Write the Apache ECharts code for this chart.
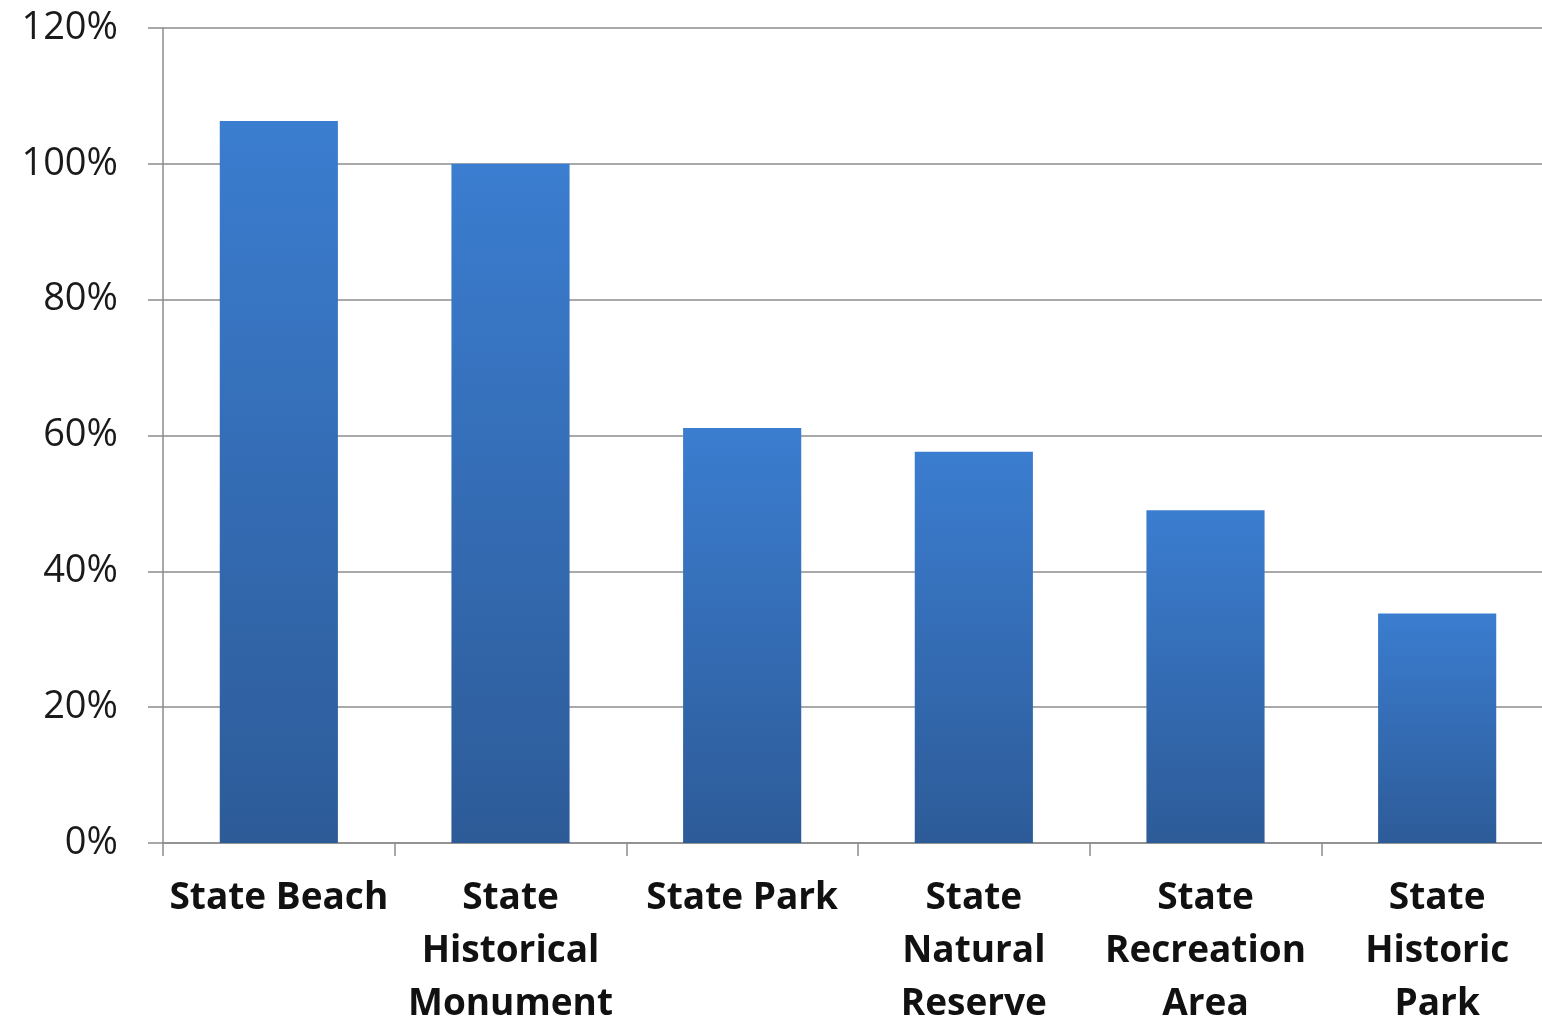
<!DOCTYPE html>
<html>
<head>
<meta charset="utf-8">
<script src="https://cdn.jsdelivr.net/npm/echarts@6/dist/echarts.min.js"></script>
<style>
  html, body { margin: 0; padding: 0; background: #fff; }
  #chart { width: 1542px; height: 1024px; }
</style>
</head>
<body>
<div id="chart"></div>
<script>
// 类别与数值
var categories = ['State Beach', 'State\nHistorical\nMonument', 'State Park', 'State\nNatural\nReserve', 'State\nRecreation\nArea', 'State\nHistoric\nPark'];
var values = [106.3, 100, 61.1, 57.6, 49.0, 33.8];
var yTicks = [0, 20, 40, 60, 80, 100, 120];

var myChart = echarts.init(document.getElementById('chart'));
var option = {
    animation: false,
    grid: {
        left: 163,
        right: -11,
        top: 28,
        bottom: 181,
        containLabel: false,
        outerBoundsMode: 'none'
    },
    xAxis: {
        type: 'category',
        data: categories,
        axisLine: { lineStyle: { color: '#8c8c8c', width: 1.5 } },
        axisTick: { show: true, length: 13, lineStyle: { color: '#8c8c8c', width: 1.5 } },
        axisLabel: {
            interval: 0,
            margin: 29,
            fontFamily: 'Open Sans',
            fontWeight: 'bold',
            fontSize: 37,
            lineHeight: 53,
            color: '#111'
        }
    },
    yAxis: {
        type: 'value',
        min: yTicks[0],
        max: yTicks[yTicks.length - 1],
        interval: 20,
        axisLine: { show: true, lineStyle: { color: '#8c8c8c', width: 1.5 } },
        axisTick: { show: true, inside: false, length: 15, lineStyle: { color: '#8c8c8c', width: 1.5 } },
        splitLine: { lineStyle: { color: '#8c8c8c', width: 1.5 } },
        axisLabel: {
            margin: 45,
            fontFamily: 'Open Sans',
            fontSize: 38,
            color: '#1a1a1a',
            formatter: '{value}%'
        }
    },
    series: [{
        type: 'bar',
        data: values,
        barWidth: '51%',
        itemStyle: {
            color: new echarts.graphic.LinearGradient(0, 0, 0, 1, [
                { offset: 0, color: '#3b7dd0' },
                { offset: 1, color: '#2d5b98' }
            ])
        }
    }]
};
myChart.setOption(option);
</script>
</body>
</html>
